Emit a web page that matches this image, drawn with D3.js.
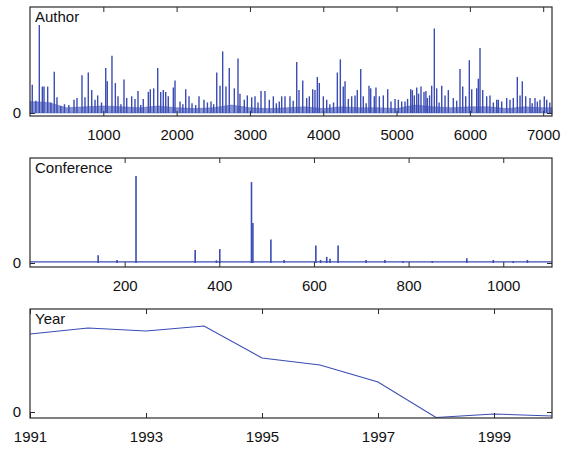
<!DOCTYPE html>
<html><head><meta charset="utf-8">
<script src="https://cdn.jsdelivr.net/npm/d3@7/dist/d3.min.js"></script>
<style>
html,body{margin:0;padding:0;background:#fff;}
svg text{font-family:"Liberation Sans",Arial,Helvetica,sans-serif;fill:#111;}
</style></head>
<body>
<svg id="c" width="561" height="449"></svg>
<script>
// ---------------- DATA ----------------
const authorIdx = [31,127,168,191,241,331,368,600,641,709,750,795,842,887,923,1033,1054,1118,1164,1200,1282,1319,1387,1432,1473,1545,1614,1641,1687,1742,1783,1818,1851,1886,1955,1978,2046,2124,2169,2305,2373,2469,2547,2592,2628,2673,2718,2787,2837,2864,2923,2964,3024,3069,3151,3205,3264,3319,
3433,3478,3546,3638,3669,3720,3774,3810,3856,3887,3919,3946,4001,4047,4192,4233,4273,4297,4342,4388,4433,4464,4511,4546,4624,4647,4696,4719,4765,4819,4879,4924,4979,5024,5115,5193,5215,5242,5275,5333,5374,5419,5479,5515,5547,5616,5661,5706,5774,5865,5902,5943,5992,6025,6093,6115,6138,6175,6229,6274,6366,6388,6434,6502,6547,6592,6647,6684,6715,6761,6820,6888,6956,7015,7048,
80,285,420,470,530,975,1240,1510,2085,2210,2260,2420,2505,3110,3360,3400,3590,4090,4140,4585,5070,5150,5300,5400,5450,5580,5820,6320,6850,6920,7090];
const authorVal = [0.32,1.00,0.30,0.30,0.30,0.47,0.18,0.15,0.17,0.43,0.18,0.46,0.26,0.15,0.20,0.51,0.36,0.65,0.34,0.19,0.38,0.17,0.19,0.16,0.25,0.16,0.24,0.27,0.28,0.51,0.24,0.26,0.24,0.19,0.29,0.37,0.13,0.27,0.19,0.19,0.15,0.13,0.46,0.31,0.70,0.30,0.51,0.28,0.62,0.22,0.15,0.20,0.18,0.19,0.25,0.25,0.15,0.19,
0.19,0.19,0.19,0.58,0.26,0.37,0.17,0.19,0.27,0.26,0.41,0.34,0.19,0.15,0.46,0.61,0.30,0.36,0.16,0.19,0.20,0.26,0.50,0.19,0.31,0.28,0.19,0.29,0.19,0.20,0.27,0.13,0.16,0.15,0.13,0.27,0.26,0.20,0.29,0.30,0.24,0.17,0.31,0.96,0.28,0.31,0.20,0.26,0.17,0.50,0.30,0.19,0.60,0.27,0.28,0.39,0.74,0.26,0.19,0.20,0.15,0.15,0.13,0.17,0.15,0.17,0.41,0.20,0.36,0.19,0.17,0.17,0.15,0.19,0.15,
0.14,0.12,0.08,0.10,0.09,0.12,0.10,0.09,0.10,0.11,0.09,0.12,0.10,0.12,0.11,0.13,0.14,0.10,0.12,0.11,0.13,0.16,0.22,0.25,0.20,0.12,0.14,0.12,0.11,0.13,0.12];
// low-level dense floor of the author series, sampled every 250 authors
const authorFloorIdx = [0,250,500,750,1000,1250,1500,1750,2000,2250,2500,2750,3000,3250,3500,3750,4000,4250,4500,4750,5000,5250,5500,5750,6000,6250,6500,6750,7000,7120];
const authorFloorVal = [0.13,0.12,0.06,0.07,0.08,0.07,0.06,0.08,0.06,0.05,0.06,0.09,0.06,0.05,0.06,0.07,0.05,0.07,0.06,0.06,0.05,0.09,0.07,0.06,0.07,0.07,0.05,0.07,0.06,0.06];

const confIdx = [144,184,224,349,394,401,468,471,509,537,604,614,627,634,651,710,750,788,850,923,979,1021,1051];
const confVal = [0.09,0.035,1.00,0.15,0.03,0.16,0.93,0.46,0.27,0.035,0.20,0.035,0.07,0.05,0.20,0.035,0.035,0.02,0.02,0.055,0.035,0.02,0.035];
const confFloor = 0.012;

const years = [1991,1992,1993,1994,1995,1996,1997,1998,1999,2000];
const yearVal = [0.78,0.84,0.81,0.86,0.54,0.47,0.30,-0.055,-0.02,-0.04];

const authorTicks = [1000,2000,3000,4000,5000,6000,7000];
const confTicks = [200,400,600,800,1000];
const yearTicks = [1991,1993,1995,1997,1999];

// ---------------- DRAW ----------------
const svg = d3.select('#c');
const L = 30, R = 552;
const blue = '#3a4cb4';
const frame = '#2a2a2a';

function panel(top, bottom, xDom, yDom, xt, title){
  const x = d3.scaleLinear().domain(xDom).range([L, R]);
  const y = d3.scaleLinear().domain(yDom).range([bottom, top]);
  const g = svg.append('g');
  return {x, y, g, top, bottom, xt, title};
}
function frameAxes(p){
  const g = p.g;
  const tl = 5;
  const ax = d3.axisBottom(p.x).tickValues(p.xt).tickSize(-tl).tickPadding(13).tickFormat(d3.format('d'));
  const gb = g.append('g').attr('transform', `translate(0,${p.bottom})`).call(ax);
  gb.select('.domain').remove();
  gb.selectAll('text').style('font-size','15px').attr('fill','#111');
  gb.selectAll('line').attr('stroke', frame);
  const at = d3.axisTop(p.x).tickValues(p.xt).tickSize(-tl).tickFormat('');
  const gt = g.append('g').attr('transform', `translate(0,${p.top})`).call(at);
  gt.select('.domain').remove(); gt.selectAll('line').attr('stroke', frame);
  const al = d3.axisLeft(p.y).tickValues([0]).tickSize(-tl).tickPadding(9).tickFormat(d3.format('d'));
  const gl = g.append('g').attr('transform', `translate(${L},0)`).call(al);
  gl.select('.domain').remove(); gl.selectAll('line').attr('stroke', frame);
  gl.selectAll('text').style('font-size','15px').attr('fill','#111');
  const ar = d3.axisRight(p.y).tickValues([0]).tickSize(-tl).tickFormat('');
  const gr = g.append('g').attr('transform', `translate(${R},0)`).call(ar);
  gr.select('.domain').remove(); gr.selectAll('line').attr('stroke', frame);
  g.append('rect').attr('x', L).attr('y', p.top).attr('width', R-L).attr('height', p.bottom-p.top)
    .attr('fill','none').attr('stroke', frame).attr('stroke-width',1.2);
  g.append('text').attr('x', L+5).attr('y', p.top+15).style('font-size','15px').text(p.title);
}

// Author
const pA = panel(7, 116, [0, 7120], [-3/88, 106/88], authorTicks, 'Author');
const floorData = authorFloorIdx.map((d,i)=>[d, authorFloorVal[i]]);
pA.g.append('path').datum(floorData)
  .attr('d', d3.area().x(d=>pA.x(d[0])).y0(pA.y(0)).y1(d=>pA.y(d[1])))
  .attr('fill', blue).attr('fill-opacity',0.6).attr('stroke', blue).attr('stroke-opacity',0.5).attr('stroke-width',0.8);
pA.g.append('g').selectAll('line').data(authorIdx.map((d,i)=>[d, authorVal[i]])).join('line')
  .attr('x1', d=>pA.x(d[0])).attr('x2', d=>pA.x(d[0]))
  .attr('y1', pA.y(0)).attr('y2', d=>pA.y(d[1]))
  .attr('stroke', blue).attr('stroke-width',1.4);
frameAxes(pA);

// Conference
const pC = panel(158, 267, [0, 1103], [-4/87, 105/87], confTicks, 'Conference');
pC.g.append('path').datum([[0,confFloor],[1103,confFloor]])
  .attr('d', d3.line().x(d=>pC.x(d[0])).y(d=>pC.y(d[1])))
  .attr('stroke', blue).attr('stroke-width',1.3).attr('fill','none');
pC.g.append('g').selectAll('line').data(confIdx.map((d,i)=>[d, confVal[i]])).join('line')
  .attr('x1', d=>pC.x(d[0])).attr('x2', d=>pC.x(d[0]))
  .attr('y1', pC.y(0)).attr('y2', d=>pC.y(d[1]))
  .attr('stroke', blue).attr('stroke-width',1.6);
frameAxes(pC);

// Year
const pY = panel(309, 418, [1991, 2000], [-0.06, 1.03], yearTicks, 'Year');
pY.g.append('path').datum(years.map((d,i)=>[d, yearVal[i]]))
  .attr('d', d3.line().x(d=>pY.x(d[0])).y(d=>pY.y(d[1])))
  .attr('stroke', blue).attr('stroke-width',1.1).attr('fill','none');
frameAxes(pY);
</script>
</body></html>
